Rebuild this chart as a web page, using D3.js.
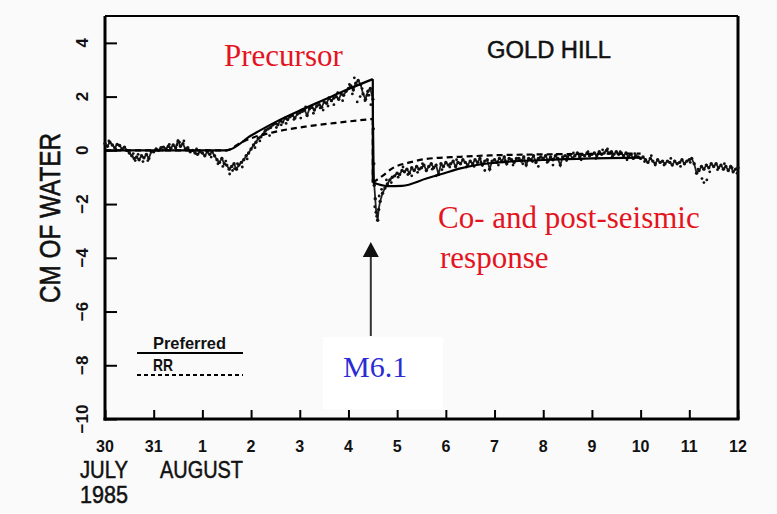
<!DOCTYPE html>
<html><head><meta charset="utf-8">
<script src="https://cdn.jsdelivr.net/npm/d3@7"></script>
<style>
html,body{margin:0;padding:0;background:#fafafa;}
svg{display:block;}
</style></head>
<body>
<svg id="chart" width="777" height="514"></svg>
<script>
// ---- data (x = days since 30 July 1985, 00h) ----
const xTickLabels = ["30","31","1","2","3","4","5","6","7","8","9","10","11","12"];
const yTickValues = [4,2,0,-2,-4,-6,-8,-10];
const quakeDay = 5.5;

// Preferred model (solid)
const prefPre = [[0,0],[2.5,0],[3.0,0.55],[3.5,1.05],[4.0,1.48],[4.5,1.88],[5.0,2.28],[5.5,2.65]];
const prefPost = [[5.5,-1.2],[5.8,-1.33],[6.1,-1.32],[6.6,-1.05],[6.95,-0.86],[7.3,-0.67],[7.9,-0.48],[9.0,-0.36],[10.0,-0.3],[11.0,-0.27]];
// RR model (dashed)
const rrPre = [[0,0],[2.5,0],[2.75,0.25],[3.0,0.45],[3.45,0.67],[4.15,0.89],[4.83,1.04],[5.5,1.17]];
const rrPost = [[5.5,-1.2],[5.7,-0.95],[5.9,-0.67],[6.26,-0.45],[6.6,-0.32],[7.3,-0.24],[7.9,-0.19],[9.0,-0.15],[10.0,-0.13],[11.0,-0.12]];

// Observed water level (dots)
const obs = [
 [0.00,0.25],[0.05,0.15],[0.10,0.30],[0.15,0.20],[0.20,0.10],[0.25,0.22],[0.30,0.18],[0.35,0.05],[0.40,0.12],[0.45,0.00],
 [0.50,-0.10],[0.55,-0.20],[0.60,-0.30],[0.65,-0.25],[0.70,-0.35],[0.75,-0.20],[0.80,-0.28],[0.85,-0.15],[0.90,-0.30],[0.95,-0.05],
 [1.00,-0.05],[1.05,0.05],[1.10,0.00],[1.15,0.10],[1.20,0.12],[1.25,0.05],[1.30,0.15],[1.35,0.08],[1.40,0.20],[1.45,0.10],
 [1.50,0.35],[1.55,0.15],[1.60,0.25],[1.65,0.05],[1.70,0.10],[1.75,-0.05],[1.80,0.00],[1.85,-0.10],[1.90,-0.15],[1.95,-0.05],
 [2.00,-0.10],[2.05,-0.20],[2.10,-0.05],[2.15,-0.15],[2.20,-0.05],[2.25,-0.20],[2.30,-0.35],[2.35,-0.45],[2.40,-0.30],[2.45,-0.50],
 [2.50,-0.55],[2.55,-0.70],[2.60,-0.60],[2.65,-0.50],[2.70,-0.70],[2.75,-0.55],[2.80,-0.45],[2.85,-0.35],[2.90,-0.20],[2.95,-0.10],
 [3.00,0.05],[3.05,0.20],[3.10,0.30],[3.15,0.45],[3.20,0.50],[3.25,0.60],[3.30,0.75],[3.35,0.80],[3.40,0.85],[3.45,0.95],
 [3.50,1.00],[3.55,0.95],[3.60,1.10],[3.65,1.05],[3.70,1.20],[3.75,1.15],[3.80,1.25],[3.85,1.30],[3.90,1.20],[3.95,1.35],
 [4.00,1.40],[4.05,1.45],[4.10,1.50],[4.15,1.30],[4.20,1.55],[4.25,1.60],[4.30,1.50],[4.35,1.65],[4.40,1.70],[4.45,1.60],
 [4.50,1.80],[4.55,1.75],[4.60,1.95],[4.65,1.85],[4.70,1.95],[4.75,2.00],[4.80,1.90],[4.85,2.10],[4.90,2.05],[4.95,2.20],
 [5.00,2.30],[5.05,2.40],[5.10,2.25],[5.15,2.50],[5.20,2.60],[5.25,2.45],[5.30,2.10],[5.35,1.90],[5.40,2.20],[5.45,2.30],
 [5.50,1.90],[5.51,0.80],[5.52,-0.50],[5.53,-1.30],[5.55,-1.80],[5.57,-2.30],[5.60,-2.60],[5.62,-2.20],[5.65,-1.90],[5.70,-1.60],
 [5.75,-1.40],[5.80,-1.25],[5.85,-1.10],[5.90,-1.00],[5.95,-0.95],
 [6.00,-0.85],[6.05,-0.90],[6.10,-0.75],[6.15,-0.80],[6.20,-0.70],[6.25,-0.85],[6.30,-0.65],[6.35,-0.75],[6.40,-0.60],[6.45,-0.70],
 [6.50,-0.65],[6.55,-0.55],[6.60,-0.75],[6.65,-0.60],[6.70,-0.50],[6.75,-0.65],[6.80,-0.55],[6.85,-0.90],[6.90,-0.50],[6.95,-0.60],
 [7.00,-0.45],[7.05,-0.55],[7.10,-0.50],[7.15,-0.40],[7.20,-0.60],[7.25,-0.45],[7.30,-0.50],[7.35,-0.35],[7.40,-0.45],[7.45,-0.55],
 [7.50,-0.40],[7.55,-0.50],[7.60,-0.35],[7.65,-0.45],[7.70,-0.30],[7.75,-0.55],[7.80,-0.40],[7.85,-0.35],[7.90,-0.70],[7.95,-0.40],
 [8.00,-0.35],[8.05,-0.45],[8.10,-0.30],[8.15,-0.40],[8.20,-0.25],[8.25,-0.50],[8.30,-0.30],[8.35,-0.35],[8.40,-0.45],[8.45,-0.30],
 [8.50,-0.30],[8.55,-0.40],[8.60,-0.25],[8.65,-0.55],[8.70,-0.30],[8.75,-0.35],[8.80,-0.20],[8.85,-0.45],[8.90,-0.30],[8.95,-0.25],
 [9.00,-0.30],[9.05,-0.20],[9.10,-0.40],[9.15,-0.25],[9.20,-0.35],[9.25,-0.20],[9.30,-0.30],[9.35,-0.55],[9.40,-0.25],[9.45,-0.20],
 [9.50,-0.25],[9.55,-0.15],[9.60,-0.30],[9.65,-0.20],[9.70,-0.10],[9.75,-0.25],[9.80,-0.15],[9.85,-0.20],[9.90,-0.10],[9.95,-0.20],
 [10.00,-0.15],[10.05,-0.10],[10.10,-0.20],[10.15,-0.05],[10.20,-0.15],[10.25,-0.10],[10.30,0.00],[10.35,-0.10],[10.40,-0.05],[10.45,-0.15],
 [10.50,-0.05],[10.55,-0.15],[10.60,-0.10],[10.65,-0.20],[10.70,-0.10],[10.75,-0.25],[10.80,-0.15],[10.85,-0.30],[10.90,-0.20],[10.95,-0.25],
 [11.00,-0.30],[11.05,-0.25],[11.10,-0.35],[11.15,-0.45],[11.20,-0.30],[11.25,-0.40],[11.30,-0.50],[11.35,-0.35],[11.40,-0.45],[11.45,-0.40],
 [11.50,-0.50],[11.55,-0.40],[11.60,-0.45],[11.65,-0.55],[11.70,-0.40],[11.75,-0.50],[11.80,-0.45],[11.85,-0.35],[11.90,-0.50],[11.95,-0.40],
 [12.00,-0.35],[12.05,-0.30],[12.10,-0.50],[12.15,-0.85],[12.20,-0.75],[12.25,-0.60],[12.30,-0.70],[12.35,-0.55],[12.40,-0.65],[12.45,-0.50],
 [12.50,-0.60],[12.55,-0.50],[12.60,-0.65],[12.65,-0.55],[12.70,-0.70],[12.75,-0.60],[12.80,-0.75],[12.85,-0.60],[12.90,-0.80],[12.95,-0.70],[13.00,-0.65]
];
// scattered readings around the main trace
const obsOutliers = [
 [0.62,-0.38],[0.78,-0.42],[1.53,0.30],[2.42,-0.60],[2.56,-0.88],[2.62,-0.75],[2.72,-0.50],[4.02,1.20],[4.42,1.58],[4.70,1.70],
 [5.18,1.80],[5.24,2.00],[5.34,1.85],[5.42,2.05],[5.12,2.70],[5.58,-2.45],[5.54,-2.10],[5.63,-1.70],[6.30,-0.95],[6.80,-0.95],
 [7.80,-0.75],[8.90,-0.60],[9.20,-0.55],[11.30,-0.55],[12.30,-1.20],[12.36,-1.10],[12.26,-1.05],[10.32,0.05],[3.38,0.55],[3.62,0.95],
 [0.08,0.35],[0.22,0.05],[0.58,-0.12],[0.68,-0.15],[0.88,-0.38],[1.18,0.00],[1.32,0.22],[1.48,0.20],[1.62,0.35],[1.88,0.05],
 [2.08,0.00],[2.18,-0.25],[2.32,-0.50],[2.48,-0.40],[2.66,-0.68],[2.82,-0.62],[2.92,-0.32],[3.08,0.10],[3.18,0.35],[3.28,0.70],
 [3.52,0.85],[3.72,1.00],[3.88,1.15],[4.12,1.62],[4.28,1.38],[4.48,1.50],[4.58,1.65],[4.78,2.15],[4.88,1.85],[5.02,2.45],
 [5.08,2.10],[5.28,2.30],[5.38,2.05],[5.46,1.70],[5.68,-1.45],[5.78,-1.10],[5.88,-1.20],[6.02,-1.00],[6.12,-0.62],[6.22,-0.90],
 [6.42,-0.82],[6.52,-0.50],[6.72,-0.70],[6.92,-0.72],[7.08,-0.62],[7.22,-0.35],[7.42,-0.62],[7.58,-0.60],[7.72,-0.45],[8.08,-0.55],
 [8.22,-0.38],[8.38,-0.55],[8.58,-0.50],[8.78,-0.42],[9.08,-0.45],[9.28,-0.15],[9.48,-0.38],[9.62,-0.10],[9.78,-0.35],[9.92,-0.05],
 [10.08,-0.30],[10.22,0.02],[10.42,-0.22],[10.58,-0.05],[10.72,-0.35],[10.88,-0.12],[11.08,-0.42],[11.22,-0.20],[11.48,-0.55],[11.62,-0.30],
 [11.82,-0.60],[12.02,-0.45],[12.18,-0.70],[12.42,-0.80],[12.58,-0.72],[12.72,-0.50],[12.88,-0.65],[12.98,-0.85]
];

const legendItems = [{label:"Preferred", dash:null, len:73},{label:"RR", dash:"4,3", len:20}];

// ---- drawing ----
const svg = d3.select("#chart");
const x = d3.scaleLinear().domain([0,13]).range([105,738]);
const y = d3.scaleLinear().domain([-10,5]).range([419,16]);

// white box behind M6.1
svg.append("rect").attr("x",323).attr("y",337).attr("width",120).attr("height",72).attr("fill","#ffffff");

// axes
const xAxis = d3.axisBottom(x).tickValues(d3.range(0,14)).tickSize(-9).tickFormat("");
const gx = svg.append("g").attr("transform",`translate(0,${y(-10)})`).call(xAxis);
gx.select(".domain").remove();
gx.selectAll(".tick line").attr("stroke","#000").attr("stroke-width",2);

const yAxis = d3.axisLeft(y).tickValues(yTickValues).tickSize(-12).tickFormat("");
const gy = svg.append("g").attr("transform",`translate(${x(0)},0)`).call(yAxis);
gy.select(".domain").remove();
gy.selectAll(".tick line").attr("stroke","#000").attr("stroke-width",2);

// frame
svg.append("line").attr("x1",x(0)).attr("x2",x(0)).attr("y1",y(5)).attr("y2",y(-10)+1.5).attr("stroke","#000").attr("stroke-width",3);
svg.append("line").attr("x1",x(0)-1.5).attr("x2",x(13)+1.5).attr("y1",y(-10)).attr("y2",y(-10)).attr("stroke","#000").attr("stroke-width",3);
svg.append("line").attr("x1",x(13)).attr("x2",x(13)).attr("y1",y(5)).attr("y2",y(-10)).attr("stroke","#000").attr("stroke-width",3);
svg.append("line").attr("x1",x(0)).attr("x2",x(13)).attr("y1",y(5)).attr("y2",y(5)).attr("stroke","#000").attr("stroke-width",2);

// tick labels
const sans = "'Liberation Sans', Arial, sans-serif";
svg.append("g").selectAll("text").data(xTickLabels).join("text")
  .attr("x",(d,i)=>x(i)).attr("y",452)
  .attr("text-anchor","middle").attr("font-family",sans).attr("font-weight","bold")
  .attr("font-size",16).attr("fill","#111").text(d=>d);

svg.append("g").selectAll("text").data(yTickValues).join("text")
  .attr("transform",d=>`translate(88,${y(d)}) rotate(-90)`)
  .attr("text-anchor","middle").attr("font-family",sans).attr("font-weight","bold")
  .attr("font-size",17).attr("fill","#111").text(d=>d<0?"\u2212"+Math.abs(d):d);

svg.append("text").attr("transform","translate(60,218) rotate(-90)")
  .attr("text-anchor","middle").attr("font-family",sans).attr("font-size",30)
  .attr("stroke","#111").attr("stroke-width",0.6)
  .attr("textLength",170).attr("lengthAdjust","spacingAndGlyphs").attr("fill","#111").text("CM OF WATER");

function sansText(t, xx, yy, len, size){
  svg.append("text").attr("x",xx).attr("y",yy).attr("font-family",sans).attr("font-size",size)
    .attr("stroke","#111").attr("stroke-width",0.5)
    .attr("textLength",len).attr("lengthAdjust","spacingAndGlyphs").attr("fill","#111").text(t);
}
sansText("JULY",80,478,48,24);
sansText("AUGUST",160,478,83,24);
sansText("1985",80,503,48,24);
sansText("GOLD HILL",487,58,124,23);

// observations
const lineObs = d3.line().x(d=>x(d[0])).y(d=>y(d[1]));
svg.append("path").datum(obs).attr("d",lineObs).attr("fill","none").attr("stroke","#222").attr("stroke-width",1.8);
const dots = svg.append("g").attr("fill","#111");
dots.selectAll("circle.o").data(obs).join("circle").attr("class","o")
  .attr("cx",d=>x(d[0])).attr("cy",d=>y(d[1])).attr("r",1.7);
dots.selectAll("circle.p").data(obsOutliers).join("circle").attr("class","p")
  .attr("cx",d=>x(d[0])).attr("cy",d=>y(d[1])).attr("r",1.4);

// models
const smooth = d3.line().x(d=>x(d[0])).y(d=>y(d[1])).curve(d3.curveMonotoneX);
const straight = d3.line().x(d=>x(d[0])).y(d=>y(d[1]));
function model(pre, post, dash){
  const g = svg.append("g").attr("fill","none").attr("stroke","#000").attr("stroke-width",2.2);
  if(dash) g.attr("stroke-dasharray",dash);
  g.append("path").attr("d",smooth(pre));
  g.append("path").attr("d",straight([pre[pre.length-1], post[0]]));
  g.append("path").attr("d",smooth(post));
}
model(rrPre, rrPost, "6,4");
model(prefPre, prefPost, null);

// legend
const lg = svg.append("g");
legendItems.forEach((it,i)=>{
  const yy = 353 + i*22;
  lg.append("line").attr("x1",137).attr("x2",243).attr("y1",yy).attr("y2",yy)
    .attr("stroke","#000").attr("stroke-width",2).attr("stroke-dasharray",it.dash);
  lg.append("text").attr("x",153).attr("y",yy-4).attr("font-family",sans).attr("font-weight","bold")
    .attr("font-size",17).attr("textLength",it.len).attr("lengthAdjust","spacingAndGlyphs")
    .attr("fill","#111").text(it.label);
});

// annotations
const serif = "'Liberation Serif', 'Times New Roman', serif";
svg.append("text").attr("x",224).attr("y",66).attr("font-family",serif).attr("font-size",31)
  .attr("fill","#e3141e").text("Precursor");
svg.append("text").attr("x",438).attr("y",228).attr("font-family",serif).attr("font-size",31)
  .attr("fill","#e3141e").text("Co- and post-seismic");
svg.append("text").attr("x",440).attr("y",268).attr("font-family",serif).attr("font-size",31)
  .attr("fill","#e3141e").text("response");
svg.append("text").attr("x",343).attr("y",377).attr("font-family",serif).attr("font-size",30)
  .attr("fill","#2b2bd4").text("M6.1");

// arrow
const ax = x(quakeDay) - 2;
svg.append("line").attr("x1",ax).attr("x2",ax).attr("y1",336).attr("y2",255).attr("stroke","#333").attr("stroke-width",2);
svg.append("path").attr("d",`M${ax-8},257 L${ax+8},257 L${ax},242 Z`).attr("fill","#111");
</script>
</body></html>
